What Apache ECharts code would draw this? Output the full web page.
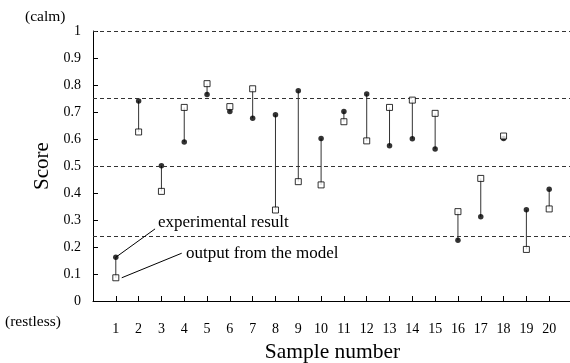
<!DOCTYPE html>
<html><head><meta charset="utf-8">
<script src="https://cdn.jsdelivr.net/npm/echarts@6/dist/echarts.min.js"></script>
<style>html,body{margin:0;padding:0;background:#fff}#c{width:570px;height:363px}</style>
</head><body><div id="c"></div>
<script>
const samples = [1,2,3,4,5,6,7,8,9,10,11,12,13,14,15,16,17,18,19,20];
const experimental = [0.162,0.741,0.501,0.589,0.765,0.702,0.677,0.690,0.779,0.602,0.702,0.767,0.575,0.601,0.563,0.225,0.312,0.602,0.338,0.414];
const modelOutput = [0.086,0.626,0.406,0.717,0.805,0.720,0.786,0.337,0.442,0.430,0.664,0.593,0.717,0.744,0.695,0.331,0.454,0.611,0.191,0.341];
const refLines = [0.245, 0.5, 0.75, 1];
const yTicks = [0,0.1,0.2,0.3,0.4,0.5,0.6,0.7,0.8,0.9,1];

const F = '"Liberation Serif","DejaVu Serif",serif';
const chart = echarts.init(document.getElementById('c'));
const pairs = samples.map((s,i)=>[s, experimental[i], modelOutput[i]]);
chart.setOption({
  animation:false,
  backgroundColor:'#fff',
  grid:{left:93, top:31, width:479, bottom:62, outerBoundsMode:'none', containLabel:false},
  xAxis:{type:'value', min:0, max:21, interval:1,
    name:'Sample number', nameLocation:'middle', nameGap:40,
    nameTextStyle:{fontFamily:F, fontSize:21.5, color:'#000'},
    axisLine:{show:true, lineStyle:{color:'#000', width:1}},
    axisTick:{show:true, inside:true, length:5, lineStyle:{color:'#000'}},
    splitLine:{show:false},
    axisLabel:{margin:21, fontFamily:F, fontSize:14, color:'#000',
      formatter:v=> (v>=1 && v<=20) ? String(v) : ''}},
  yAxis:{type:'value', min:0, max:1, interval:0.1,
    name:'Score', nameLocation:'middle', nameGap:39,
    nameTextStyle:{fontFamily:F, fontSize:21, color:'#000'},
    axisLine:{show:true, lineStyle:{color:'#000', width:1}},
    axisTick:{show:true, inside:true, length:5, lineStyle:{color:'#000'}},
    splitLine:{show:false},
    axisLabel:{margin:12, fontFamily:F, fontSize:14, color:'#000',
      formatter:v=>String(Math.round(v*10)/10)}},
  graphic:[
    {type:'text', left:25, top:9, style:{text:'(calm)', font:'15.5px '+F, fill:'#000'}},
    {type:'text', left:5, top:314, style:{text:'(restless)', font:'15.5px '+F, fill:'#000'}}
  ],
  series:[
    {type:'custom', data:pairs, encode:{x:0, y:[1,2]}, z:2,
      renderItem:(params, api)=>{
        const p1 = api.coord([api.value(0), api.value(1)]);
        const p2 = api.coord([api.value(0), api.value(2)]);
        return {type:'line', shape:{x1:p1[0], y1:p1[1], x2:p2[0], y2:p2[1]},
          style:{stroke:'#333', lineWidth:1}};
      },
      markLine:{silent:true, symbol:'none', label:{show:false},
        lineStyle:{color:'#333', type:[4,3], width:1},
        data: refLines.map(v=>({yAxis:v}))}
    },
    {type:'scatter', name:'experimental result', z:4,
      data: samples.map((s,i)=>[s, experimental[i]]),
      symbol:'circle', symbolSize:5.5, itemStyle:{color:'#000'},
      markLine:{silent:true, symbol:'none', label:{show:false},
        lineStyle:{color:'#000', type:'solid', width:1},
        data:[
          [{coord:[1,0.162]},{coord:[2.72,0.267]}],
          [{coord:[1.26,0.086]},{coord:[3.89,0.177]}]
        ]},
      markPoint:{silent:true, symbol:'circle', symbolSize:0,
        label:{show:true, position:'right', distance:0, fontFamily:F, fontSize:17, color:'#000', formatter:p=>p.name},
        data:[
          {name:'experimental result', coord:[2.85,0.29]},
          {name:'output from the model', coord:[4.08,0.174]}
        ]}
    },
    {type:'scatter', name:'output from the model', z:5,
      data: samples.map((s,i)=>[s, modelOutput[i]]),
      symbol:'rect', symbolSize:6,
      itemStyle:{color:'#fff', borderColor:'#000', borderWidth:1}}
  ]
});
</script></body></html>
